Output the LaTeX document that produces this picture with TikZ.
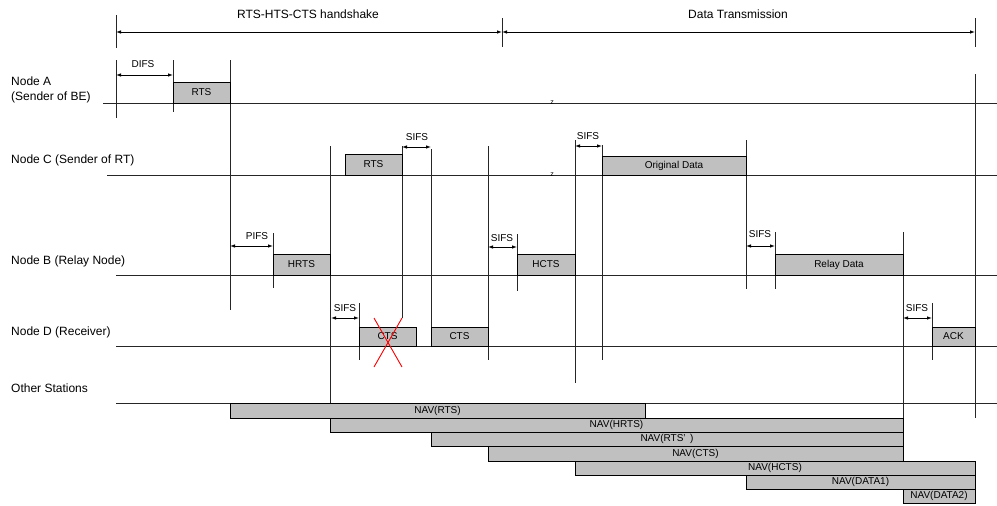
\documentclass[tikz,border=0pt]{standalone}
\usepackage{fontspec}
\setmainfont{Liberation Sans}
\usetikzlibrary{arrows.meta}
\definecolor{boxgray}{HTML}{C0C0C0}
\tikzset{
  lane/.style={line width=0.9pt, draw=black!85},
  tickline/.style={line width=0.9pt, draw=black!85},
  pkt/.style={draw=black, fill=boxgray, line width=1pt},
  small/.style={font=\fontsize{10}{12}\selectfont, inner sep=0pt},
  big/.style={font=\fontsize{12}{14}\selectfont, inner sep=0pt},
  gap/.style={{Latex[length=5pt,width=3.5pt]}-{Latex[length=5pt,width=3.5pt]}, line width=0.8pt},
  cross/.style={draw=red, line width=0.9pt},
  brk/.style={font=\fontsize{7}{7}\selectfont, inner sep=0pt},
}
\newcommand\packet[6]{%
  \draw[pkt] (#2,#3) rectangle (#4,#5);
  \node[small] (#1) at ({(#2+#4)/2},{(#3+#5)/2}) {#6};}
\begin{document}
\begin{tikzpicture}[x=1pt,y=-1pt]
\useasboundingbox (0,0) rectangle (997,506);

% ---------- header ----------
\coordinate (h0) at (116,32);
\coordinate (h1) at (502,32);
\coordinate (h2) at (975,32);
\draw[tickline] (116,15) -- (116,48);
\draw[tickline] (502,18) -- (502,47);
\draw[tickline] (975,18) -- (975,47);
\draw[gap] (h0) -- (h1);
\draw[gap] (h1) -- (h2);
\node[big] (hs) at (308,14) {RTS-HTS-CTS handshake};
\node[big] (dt) at (738,14) {Data Transmission};

% ---------- lane labels ----------
\node[big, anchor=west] (la1) at (11,81) {Node A};
\node[big, anchor=west] (la2) at (11,97) {(Sender of BE)};
\node[big, anchor=west] (lc) at (11,160) {Node C (Sender of RT)};
\node[big, anchor=west] (lb) at (11,261) {Node B (Relay Node)};
\node[big, anchor=west] (ld) at (11,332) {Node D (Receiver)};
\node[big, anchor=west] (lo) at (11,388) {Other Stations};

% ---------- lane lines ----------
\draw[lane] (103,103) -- (997,103);
\draw[lane] (107,175) -- (997,175);
\draw[lane] (116,275) -- (997,275);
\draw[lane] (116,346) -- (997,346);
\draw[lane] (116,403) -- (997,403);
\node[brk] (z1) at (552,103) {z};
\node[brk] (z2) at (552,175) {z};

% ---------- vertical time marks ----------
\draw[tickline] (116,60) -- (116,118);
\draw[tickline] (173,60) -- (173,112);
\draw[tickline] (230,60) -- (230,310);
\draw[tickline] (273,233) -- (273,288);
\draw[tickline] (330,146) -- (330,403);
\draw[tickline] (359,303) -- (359,360);
\draw[tickline] (402,146) -- (402,318);
\draw[tickline] (431,149) -- (431,346);
\draw[tickline] (488,146) -- (488,360);
\draw[tickline] (517,234) -- (517,291);
\draw[tickline] (575,140) -- (575,383);
\draw[tickline] (602,145) -- (602,360);
\draw[tickline] (746,140) -- (746,289);
\draw[tickline] (775,232) -- (775,289);
\draw[tickline] (903,232) -- (903,418);
\draw[tickline] (932,303) -- (932,360);
\draw[tickline] (975,74) -- (975,418);

% ---------- interframe spaces ----------
\coordinate (d0) at (116,75); \coordinate (d1) at (173,75);
\draw[gap] (d0) -- (d1);
\node[small] (difs) at (143,64) {DIFS};

\coordinate (p0) at (230,246); \coordinate (p1) at (273,246);
\draw[gap] (p0) -- (p1);
\node[small] (pifs) at (257,236) {PIFS};

\coordinate (s10) at (402,147); \coordinate (s11) at (431,147);
\draw[gap] (s10) -- (s11);
\node[small] (sifs1) at (417,137) {SIFS};

\coordinate (s20) at (331,318); \coordinate (s21) at (359,318);
\draw[gap] (s20) -- (s21);
\node[small] (sifs2) at (345,308) {SIFS};

\coordinate (s30) at (488,247); \coordinate (s31) at (517,247);
\draw[gap] (s30) -- (s31);
\node[small] (sifs3) at (502,238) {SIFS};

\coordinate (s40) at (575,146); \coordinate (s41) at (602,146);
\draw[gap] (s40) -- (s41);
\node[small] (sifs4) at (588,136) {SIFS};

\coordinate (s50) at (746,246); \coordinate (s51) at (775,246);
\draw[gap] (s50) -- (s51);
\node[small] (sifs5) at (760,234) {SIFS};

\coordinate (s60) at (903,318); \coordinate (s61) at (932,318);
\draw[gap] (s60) -- (s61);
\node[small] (sifs6) at (917,308) {SIFS};

% ---------- frames ----------
\packet{rtsA}{173}{82}{230}{103}{RTS}
\packet{rtsC}{345}{154}{402}{175}{RTS}
\packet{hrts}{273}{254}{330}{275}{HRTS}
\packet{cts1}{359}{327}{416}{346}{CTS}
\packet{cts2}{431}{327}{488}{346}{CTS}
\packet{hcts}{517}{254}{575}{275}{HCTS}
\packet{odata}{602}{156}{746}{175}{Original Data}
\packet{rdata}{775}{254}{903}{275}{Relay Data}
\packet{ack}{932}{327}{975}{346}{ACK}

% red cross over the lost CTS
\draw[cross] (374,318) -- (402,367);
\draw[cross] (402,318) -- (374,367);

% ---------- NAV bars ----------
\packet{nav1}{230}{403}{645}{418}{NAV(RTS)}
\packet{nav2}{330}{418}{903}{432}{NAV(HRTS)}
\packet{nav3}{431}{432}{903}{446}{NAV(RTS’\ \,)}
\packet{nav4}{488}{446}{903}{461}{NAV(CTS)}
\packet{nav5}{575}{461}{975}{475}{NAV(HCTS)}
\packet{nav6}{746}{475}{975}{489}{NAV(DATA1)}
\packet{nav7}{903}{489}{975}{503}{NAV(DATA2)}
\end{tikzpicture}
\end{document}
